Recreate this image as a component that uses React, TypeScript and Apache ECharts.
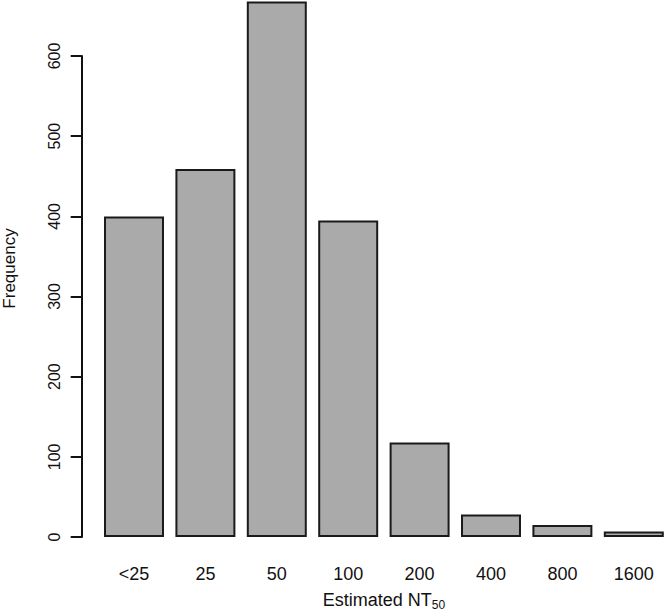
import React, { useEffect, useRef } from "react";
import * as echarts from "echarts";

const categories = ["<25", "25", "50", "100", "200", "400", "800", "1600"];
const frequencies = [400, 459, 668, 395, 118, 28, 15, 7];
const yTickMin = 0;
const yTickMax = 600;
const yTickStep = 100;

const FONT = "Liberation Sans, Arial, sans-serif";
const TEXT = "#111111";

export default function App() {
  const ref = useRef<HTMLDivElement>(null);
  useEffect(() => {
    if (!ref.current) return;
    const chart = echarts.init(ref.current, undefined, { renderer: "svg" });
    chart.setOption({
      animation: false,
      backgroundColor: "#ffffff",
      textStyle: { fontFamily: FONT, color: TEXT },
      grid: [
        { left: 98.3, width: 571.2, top: 0, height: 537, containLabel: false, outerBoundsMode: "none" },
        { left: 81.7, width: 10, top: 56, height: 481, containLabel: false, outerBoundsMode: "none" },
      ],
      xAxis: [
        {
          type: "category",
          gridIndex: 0,
          data: categories,
          axisLine: { show: false },
          axisTick: { show: false },
          axisLabel: { fontSize: 18, color: TEXT, margin: 28, fontFamily: FONT },
          name: "{n|Estimated NT}{s|50}",
          nameLocation: "middle",
          nameGap: 54,
          nameTextStyle: {
            fontFamily: FONT,
            color: TEXT,
            rich: {
              n: { fontSize: 18, lineHeight: 18, verticalAlign: "top", fontFamily: FONT, color: TEXT },
              s: { fontSize: 12, lineHeight: 12, padding: [8, 0, 0, 0], verticalAlign: "top", fontFamily: FONT, color: TEXT },
            },
          },
        },
        {
          type: "value",
          gridIndex: 1,
          min: 0,
          max: 1,
          show: false,
        },
      ],
      yAxis: [
        {
          type: "value",
          gridIndex: 0,
          min: 0,
          max: 670,
          axisLine: { show: false },
          axisTick: { show: false },
          axisLabel: { show: false },
          splitLine: { show: false },
          name: "Frequency",
          nameLocation: "middle",
          nameGap: 80,
          nameTextStyle: { fontSize: 17, color: TEXT, fontFamily: FONT },
        },
        {
          type: "value",
          gridIndex: 1,
          min: yTickMin,
          max: yTickMax,
          interval: yTickStep,
          axisLine: { show: true, lineStyle: { color: TEXT, width: 2 } },
          axisTick: { show: true, length: 11, lineStyle: { color: TEXT, width: 2 } },
          axisLabel: { fontSize: 16, color: TEXT, rotate: 90, margin: 19.5, fontFamily: FONT },
          splitLine: { show: false },
        },
      ],
      series: [
        {
          type: "bar",
          xAxisIndex: 0,
          yAxisIndex: 0,
          data: frequencies,
          barCategoryGap: "16%",
          clip: false,
          itemStyle: { color: "#aaaaaa", borderColor: "#1a1a1a", borderWidth: 2 },
          emphasis: { disabled: true },
        },
        {
          type: "scatter",
          xAxisIndex: 1,
          yAxisIndex: 1,
          data: [],
          silent: true,
        },
      ],
    });
    return () => chart.dispose();
  }, []);
  return (
    <div
      ref={ref}
      style={{ position: "absolute", left: 0, top: 0, width: 666, height: 611 }}
    />
  );
}
